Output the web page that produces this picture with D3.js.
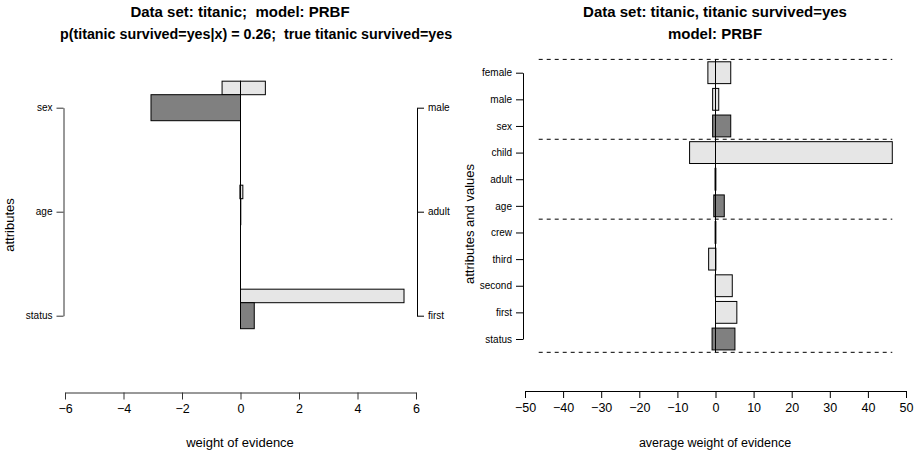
<!DOCTYPE html>
<html>
<head>
<meta charset="utf-8">
<script src="https://cdn.jsdelivr.net/npm/d3@7"></script>
<style>
  body { margin: 0; background: #fff; }
  text { font-family: "Liberation Sans", Arial, sans-serif; fill: #000; white-space: pre; }
</style>
</head>
<body>
<div id="chart"></div>
<script>

// left panel: one instance, attributes from bottom to top
var attrNames = ['status', 'age', 'sex'];
var attrValues = ['first', 'adult', 'male'];
var attrWoe = [0.47, 0.01, -3.06];          // dark bars
var valueAvgNeg = [0, -0.02, -0.63];        // light bars, negative part
var valueAvgPos = [5.59, 0.08, 0.85];       // light bars, positive part
var leftTicks = [-6, -4, -2, 0, 2, 4, 6];

// right panel: averages over the model, from bottom to top
var rowNames = ['status', 'first', 'second', 'third', 'crew', 'age', 'adult', 'child', 'sex', 'male', 'female'];
var rowIsAttr = [true, false, false, false, false, true, false, false, true, false, false];
var rowAvgNeg = [-0.9, 0, -0.05, -1.8, -0.1, -0.45, -0.12, -6.8, -0.75, -0.75, -2.0];
var rowAvgPos = [5.1, 5.6, 4.4, 0.1, 0.1, 2.3, 0.1, 46.4, 4.0, 0.85, 4.0];
var groupStarts = [0, 5, 8];                // first row of each attribute group
var rightTicks = [-50, -40, -30, -20, -10, 0, 10, 20, 30, 40, 50];

var W = 917, H = 457;
var dark = '#808080', light = '#e6e6e6';

var svg = d3.select('#chart').append('svg')
	.attr('width', W)
	.attr('height', H);

function styleAxis(g, size, col) {
	g.selectAll('path, line').attr('stroke', col || '#000');
	g.selectAll('text').style('font-family', '"Liberation Sans", Arial, sans-serif')
		.style('font-size', size + 'px').attr('fill', '#000');
}

function title(g, x, y, txt, size) {
	g.append('text').attr('x', x).attr('y', y).attr('text-anchor', 'middle')
		.style('font-weight', 'bold').style('font-size', (size || 15) + 'px').text(txt);
}

// ---------- left panel ----------
var xL = d3.scaleLinear().domain([-6, 6]).range([65, 416]);
var yL = d3.scaleLinear().domain([0, 2]).range([315.7, 107.7]);
var idx = d3.range(attrNames.length);

var left = svg.append('g');

title(left, 240, 17, 'Data set: titanic;  model: PRBF');
title(left, 256, 39, 'p(titanic survived=yes|x) = 0.26;  true titanic survived=yes', 14.3);

// light bars (value averages), above each dark bar
left.selectAll('rect.vneg')
	.data(idx).enter().append('rect')
	.attr('x', function(i) { return xL(valueAvgNeg[i]); })
	.attr('width', function(i) { return xL(0) - xL(valueAvgNeg[i]); })
	.attr('y', function(i) { return yL(i + 0.255); })
	.attr('height', function(i) { return yL(i + 0.125) - yL(i + 0.255); })
	.attr('fill', light).attr('stroke', '#000');
left.selectAll('rect.vpos')
	.data(idx).enter().append('rect')
	.attr('x', xL(0))
	.attr('width', function(i) { return xL(valueAvgPos[i]) - xL(0); })
	.attr('y', function(i) { return yL(i + 0.255); })
	.attr('height', function(i) { return yL(i + 0.125) - yL(i + 0.255); })
	.attr('fill', light).attr('stroke', '#000');

// dark bars (attribute weight of evidence)
left.selectAll('rect.attr')
	.data(idx).enter().append('rect')
	.attr('x', function(i) { return xL(Math.min(0, attrWoe[i])); })
	.attr('width', function(i) { return Math.abs(xL(attrWoe[i]) - xL(0)); })
	.attr('y', function(i) { return yL(i + 0.125); })
	.attr('height', function(i) { return yL(i - 0.125) - yL(i + 0.125); })
	.attr('fill', dark).attr('stroke', '#000');

left.append('line')
	.attr('x1', xL(0)).attr('x2', xL(0))
	.attr('y1', yL(2.255)).attr('y2', yL(-0.125))
	.attr('stroke', '#000');

var axL = left.append('g').attr('transform', 'translate(0,392.5)')
	.call(d3.axisBottom(xL).tickValues(leftTicks).tickSize(7).tickSizeOuter(0).tickPadding(5));
styleAxis(axL, 12.5, '#333');

var axLL = left.append('g').attr('transform', 'translate(63.5,0)')
	.call(d3.axisLeft(yL).tickValues(idx).tickFormat(function(i) { return attrNames[i]; })
		.tickSize(7).tickSizeOuter(0).tickPadding(4));
styleAxis(axLL, 10, '#333');

var axLR = left.append('g').attr('transform', 'translate(417,0)')
	.call(d3.axisRight(yL).tickValues(idx).tickFormat(function(i) { return attrValues[i]; })
		.tickSize(7).tickSizeOuter(0).tickPadding(4));
styleAxis(axLR, 10);

left.append('text').attr('x', 240).attr('y', 447).attr('text-anchor', 'middle')
	.style('font-size', '13px').text('weight of evidence');
left.append('text').attr('transform', 'translate(14,225) rotate(-90)')
	.attr('text-anchor', 'middle').style('font-size', '13px').text('attributes');

// ---------- right panel ----------
var xR = d3.scaleLinear().domain([-50, 50]).range([525, 906]);
var yR = d3.scaleLinear().domain([0, 10]).range([339, 72.7]);
var rows = d3.range(rowNames.length);
var half = 0.41;
var maxAbs = d3.max(rows, function(i) { return Math.max(-rowAvgNeg[i], rowAvgPos[i]); });

var right = svg.append('g');

title(right, 715, 17, 'Data set: titanic, titanic survived=yes');
title(right, 715, 39, 'model: PRBF');

// dashed separators between attribute groups
var seps = groupStarts.map(function(s) { return s - 0.5; }).concat([rowNames.length - 0.5]);
right.selectAll('line.sep')
	.data(seps).enter().append('line')
	.attr('x1', xR(-maxAbs)).attr('x2', xR(maxAbs))
	.attr('y1', function(d) { return yR(d); })
	.attr('y2', function(d) { return yR(d); })
	.attr('stroke', '#000').attr('stroke-dasharray', '4,4');

right.selectAll('rect.neg')
	.data(rows).enter().append('rect')
	.attr('x', function(i) { return xR(rowAvgNeg[i]); })
	.attr('width', function(i) { return xR(0) - xR(rowAvgNeg[i]); })
	.attr('y', function(i) { return yR(i + half); })
	.attr('height', function(i) { return yR(i - half) - yR(i + half); })
	.attr('fill', function(i) { return rowIsAttr[i] ? dark : light; })
	.attr('stroke', '#000');
right.selectAll('rect.pos')
	.data(rows).enter().append('rect')
	.attr('x', xR(0))
	.attr('width', function(i) { return xR(rowAvgPos[i]) - xR(0); })
	.attr('y', function(i) { return yR(i + half); })
	.attr('height', function(i) { return yR(i - half) - yR(i + half); })
	.attr('fill', function(i) { return rowIsAttr[i] ? dark : light; })
	.attr('stroke', '#000');

right.append('line')
	.attr('x1', xR(0)).attr('x2', xR(0))
	.attr('y1', yR(10.5)).attr('y2', yR(-0.5))
	.attr('stroke', '#000');

var axR = right.append('g').attr('transform', 'translate(0,391)')
	.call(d3.axisBottom(xR).tickValues(rightTicks).tickSize(7).tickSizeOuter(0).tickPadding(5));
styleAxis(axR, 12.5);

var axRL = right.append('g').attr('transform', 'translate(523,0)')
	.call(d3.axisLeft(yR).tickValues(rows).tickFormat(function(i) { return rowNames[i]; })
		.tickSize(7).tickSizeOuter(0).tickPadding(4));
styleAxis(axRL, 10);

right.append('text').attr('x', 715).attr('y', 447).attr('text-anchor', 'middle')
	.style('font-size', '12.5px').text('average weight of evidence');
right.append('text').attr('transform', 'translate(474,224) rotate(-90)')
	.attr('text-anchor', 'middle').style('font-size', '13px').text('attributes and values');

</script>
</body>
</html>
